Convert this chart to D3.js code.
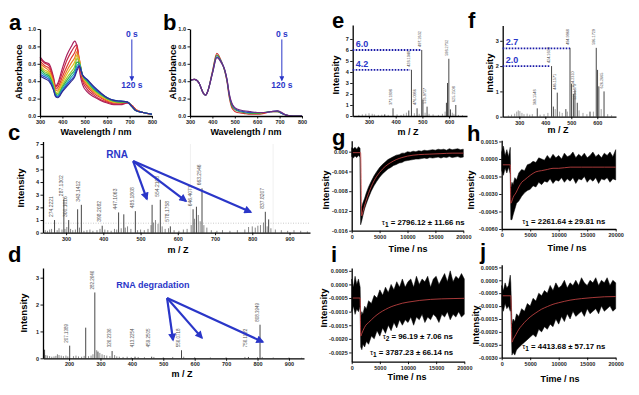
<!DOCTYPE html>
<html>
<head>
<meta charset="utf-8">
<script src="https://cdn.jsdelivr.net/npm/d3@7"></script>
<style>
body { margin: 0; background: #fff; }
svg { font-family: "Liberation Sans", Arial, sans-serif; }
.tick text { font-family: "Liberation Sans", Arial, sans-serif; font-size: 5.5px; font-weight: bold; fill: #222; }
</style>
</head>
<body>
<svg id="fig" width="639" height="395"></svg>
<script>
// ---- UV-vis spectra (panels a, b) ----
const wl = [300, 320, 340, 360, 370, 380, 400, 420, 440, 455, 465, 475, 490, 510, 540, 570, 600, 630, 660, 690, 710, 730, 760, 800];
const specA = [
    [0.68, 0.62, 0.60, 0.45, 0.34, 0.38, 0.55, 0.70, 0.80, 0.86, 0.80, 0.55, 0.36, 0.28, 0.22, 0.18, 0.15, 0.13, 0.13, 0.15, 0.12, 0.07, 0.04, 0.02],
    [0.66, 0.61, 0.58, 0.43, 0.33, 0.36, 0.50, 0.64, 0.74, 0.80, 0.82, 0.62, 0.40, 0.31, 0.24, 0.19, 0.16, 0.14, 0.14, 0.15, 0.12, 0.07, 0.04, 0.02],
    [0.63, 0.58, 0.55, 0.41, 0.31, 0.33, 0.45, 0.57, 0.67, 0.73, 0.79, 0.66, 0.43, 0.34, 0.26, 0.21, 0.17, 0.15, 0.15, 0.16, 0.12, 0.07, 0.04, 0.02],
    [0.60, 0.56, 0.52, 0.39, 0.29, 0.30, 0.41, 0.52, 0.61, 0.67, 0.74, 0.66, 0.45, 0.36, 0.28, 0.22, 0.18, 0.16, 0.15, 0.16, 0.11, 0.07, 0.04, 0.02],
    [0.58, 0.53, 0.50, 0.37, 0.27, 0.28, 0.38, 0.48, 0.56, 0.62, 0.70, 0.64, 0.46, 0.38, 0.29, 0.23, 0.19, 0.16, 0.16, 0.16, 0.11, 0.06, 0.04, 0.02],
    [0.56, 0.51, 0.48, 0.35, 0.26, 0.26, 0.35, 0.44, 0.51, 0.57, 0.66, 0.63, 0.46, 0.39, 0.30, 0.24, 0.20, 0.17, 0.16, 0.16, 0.11, 0.06, 0.04, 0.02],
    [0.54, 0.49, 0.46, 0.34, 0.25, 0.24, 0.33, 0.41, 0.48, 0.53, 0.62, 0.61, 0.47, 0.40, 0.31, 0.25, 0.20, 0.17, 0.16, 0.16, 0.11, 0.06, 0.04, 0.02],
    [0.51, 0.47, 0.44, 0.32, 0.24, 0.23, 0.31, 0.38, 0.45, 0.50, 0.58, 0.60, 0.47, 0.41, 0.32, 0.26, 0.21, 0.18, 0.17, 0.16, 0.11, 0.06, 0.04, 0.02],
    [0.48, 0.45, 0.42, 0.31, 0.23, 0.22, 0.29, 0.36, 0.42, 0.47, 0.55, 0.58, 0.47, 0.42, 0.33, 0.26, 0.21, 0.18, 0.17, 0.16, 0.11, 0.06, 0.04, 0.02],
    [0.46, 0.43, 0.40, 0.30, 0.22, 0.21, 0.28, 0.34, 0.40, 0.45, 0.52, 0.57, 0.47, 0.42, 0.34, 0.27, 0.21, 0.18, 0.17, 0.16, 0.11, 0.06, 0.04, 0.02]
];
const colorsA = ['#a8205e', '#c82848', '#e03a30', '#ec7a28', '#e0c020', '#98c830', '#30b050', '#20a8b0', '#2050d0', '#302a90'];
const specB = [
    [0.41, 0.42, 0.38, 0.26, 0.24, 0.29, 0.51, 0.72, 0.63, 0.52, 0.40, 0.22, 0.08, 0.04, 0.03, 0.02, 0.02, 0.03, 0.05, 0.05, 0.03, 0.01, 0.00, 0.00],
    [0.41, 0.42, 0.38, 0.26, 0.24, 0.29, 0.50, 0.70, 0.62, 0.52, 0.41, 0.24, 0.10, 0.06, 0.04, 0.03, 0.03, 0.04, 0.05, 0.05, 0.03, 0.01, 0.00, 0.00],
    [0.41, 0.42, 0.38, 0.26, 0.24, 0.29, 0.49, 0.68, 0.62, 0.53, 0.42, 0.25, 0.12, 0.07, 0.05, 0.04, 0.04, 0.04, 0.05, 0.06, 0.03, 0.01, 0.00, 0.00],
    [0.41, 0.42, 0.38, 0.26, 0.24, 0.29, 0.49, 0.67, 0.61, 0.53, 0.42, 0.26, 0.13, 0.08, 0.06, 0.05, 0.04, 0.04, 0.05, 0.06, 0.04, 0.01, 0.00, 0.00]
];
const colorsB = ['#d03030', '#40a040', '#2050c0', '#702a80'];
const wlTicks = [300, 400, 500, 600, 700, 800];
const absTicks = [0, 0.2, 0.4, 0.6, 0.8, 1.0];

// ---- mass spectra (panels c, d, e, f) ----
const cMz = [269, 294, 307, 331, 341, 397, 441, 455, 486, 531, 553, 580, 641, 650, 665, 835, 844];
const cInt = [1.0, 2.65, 1.0, 1.85, 2.2, 0.55, 1.6, 1.45, 1.7, 2.2, 2.6, 0.5, 1.85, 2.05, 3.5, 1.65, 1.05];
const cLab = ['274.2221', '287.1302', '300.1016', '', '343.1412', '398.2082', '447.1063', '', '485.1808', '', '554.2108', '578.1758', '646.4071', '', '663.2546', '837.8207', ''];
const cMinorMz = [244, 250, 256, 261, 276, 281, 289, 297, 302, 312, 318, 325, 336, 348, 356, 364, 372, 383, 391, 404, 412, 421, 430, 436, 448, 459, 465, 474, 492, 500, 510, 520, 528, 535, 540, 547, 558, 566, 575, 590, 603, 615, 625, 636, 645, 655, 660, 670, 678, 690, 705, 720, 740, 760, 780, 790, 800, 808, 815, 822, 830, 840, 850, 862, 878, 895, 912, 930, 948];
const cMinorInt = [0.2, 0.15, 0.25, 0.3, 0.2, 0.35, 0.25, 0.3, 0.45, 0.3, 0.2, 0.25, 0.4, 0.15, 0.2, 0.25, 0.15, 0.2, 0.3, 0.25, 0.2, 0.15, 0.3, 0.25, 0.35, 0.4, 0.5, 0.3, 0.2, 0.25, 0.2, 0.3, 0.6, 0.8, 1.0, 0.7, 0.5, 0.3, 0.35, 0.2, 0.15, 0.25, 0.3, 0.6, 1.1, 1.4, 0.9, 0.6, 0.4, 0.2, 0.15, 0.2, 0.15, 0.2, 0.25, 0.45, 0.5, 0.4, 0.55, 0.6, 0.8, 0.5, 0.35, 0.25, 0.2, 0.15, 0.2, 0.15, 0.1];
const cTicksX = [300, 400, 500, 600, 700, 800, 900];
const cTicksY = [0, 1, 2, 3, 4, 5, 6, 7];

const dMz = [122, 202, 253, 282, 292, 337, 410, 463, 558, 771, 808];
const dInt = [0.32, 0.47, 1.14, 2.45, 0.25, 0.27, 0.06, 0.06, 0.3, 0.05, 1.25];
const dLab = ['', '207.1389', '', '282.2646', '', '326.2336', '413.2254', '459.2505', '556.0718', '756.1122', '808.3949'];
const dMinorMz = [120, 126, 131, 138, 145, 152, 158, 163, 168, 175, 182, 190, 196, 214, 222, 230, 240, 248, 262, 270, 276, 288, 298, 305, 312, 320, 330, 345, 352, 360, 372, 385, 398, 420, 440, 470, 500, 530, 565, 600, 650, 700, 760, 800, 815, 850, 900, 940];
const dMinorInt = [0.2, 0.12, 0.1, 0.08, 0.06, 0.07, 0.09, 0.15, 0.12, 0.1, 0.08, 0.1, 0.07, 0.08, 0.1, 0.07, 0.06, 0.09, 0.08, 0.1, 0.15, 0.3, 0.2, 0.15, 0.12, 0.1, 0.08, 0.12, 0.07, 0.06, 0.05, 0.06, 0.04, 0.05, 0.04, 0.05, 0.04, 0.05, 0.06, 0.04, 0.03, 0.04, 0.05, 0.04, 0.05, 0.03, 0.03, 0.02];
const dTicksX = [200, 300, 400, 500, 600, 700, 800, 900];
const dTicksY = [0, 1, 2, 3];

const eMz = [359, 390, 449, 459, 480, 497.5, 502, 517.5, 590, 594, 599, 605, 625];
const eInt = [0.15, 0.7, 0.5, 4.2, 0.7, 6.0, 1.5, 0.85, 1.2, 3.0, 5.2, 0.6, 1.0];
const eLab = ['', '373.1898', '', '428.1048', '476.0986', '497.2632', '', '516.9727', '', '', '598.2732', '', '625.2508'];
const eMinorMz = [262, 275, 288, 300, 312, 320, 335, 348, 372, 405, 420, 430, 440, 470, 488, 510, 525, 540, 560, 575, 585, 612, 618, 635, 650];
const eMinorInt = [0.1, 0.15, 0.2, 0.25, 0.2, 0.15, 0.1, 0.12, 0.1, 0.15, 0.1, 0.2, 0.3, 0.25, 0.2, 0.3, 0.2, 0.15, 0.1, 0.2, 0.4, 0.3, 0.2, 0.1, 0.08];
const eMarks = [6.0, 4.2];
const eMarkMz = [497.5, 454];

const fMz = [369, 424, 431, 446, 479, 495, 501, 508, 514, 523, 572, 596, 601, 606, 626];
const fInt = [0.33, 2.0, 0.4, 0.95, 0.3, 2.72, 1.3, 0.9, 1.05, 0.55, 0.2, 2.72, 1.85, 1.2, 1.0];
const fLab = ['369.1548', '424.1690', '', '446.1571', '', '494.9968', '', '', '514.2310', '523.1870', '', '596.1729', '', '', '626.2665'];
const fMinorMz = [258, 270, 282, 290, 296, 302, 310, 318, 330, 340, 350, 380, 395, 410, 438, 455, 465, 485, 530, 545, 560, 585, 615, 640, 655];
const fMinorInt = [0.05, 0.08, 0.12, 0.2, 0.25, 0.22, 0.15, 0.1, 0.12, 0.08, 0.1, 0.08, 0.1, 0.15, 0.3, 0.2, 0.15, 0.2, 0.25, 0.15, 0.1, 0.2, 0.3, 0.1, 0.06];
const fMarks = [2.7, 2.0];
const fMarkMz = [495, 418];
const efTicksX = [300, 400, 500, 600];

// ---- transient traces (panels g, h, i, j): noise band (lo/hi) + red fit ----
const tt = [0, 300, 600, 900, 1200, 1500, 1600, 1800, 2000, 2300, 2600, 3000, 3500, 4000, 4500, 5000, 5500, 6000, 6500, 7000, 7500, 8000, 8500, 9000, 9500, 10000, 10500, 11000, 11500, 12000, 12500, 13000, 13500, 14000, 14500, 15000, 15500, 16000, 16500, 17000, 17500, 18000, 18500, 19000, 19500, 20000];
const gHi = [0.0008, 0.0006, 0.0009, 0.0005, 0.0010, 0.0007, -0.0110, -0.0112, -0.0104, -0.0095, -0.0084, -0.0072, -0.0060, -0.0049, -0.0040, -0.0032, -0.0026, -0.0021, -0.0016, -0.0013, -0.0010, -0.0007, -0.0006, -0.0003, -0.0003, 0.0000, -0.0001, 0.0001, 0.0000, 0.0002, 0.0001, 0.0003, 0.0002, 0.0003, 0.0004, 0.0003, 0.0005, 0.0004, 0.0005, 0.0003, 0.0006, 0.0004, 0.0005, 0.0006, 0.0004, 0.0005];
const gLo = [-0.0010, -0.0013, -0.0009, -0.0012, -0.0008, -0.0011, -0.0148, -0.0140, -0.0130, -0.0116, -0.0106, -0.0094, -0.0080, -0.0069, -0.0060, -0.0052, -0.0045, -0.0040, -0.0035, -0.0032, -0.0028, -0.0026, -0.0023, -0.0022, -0.0019, -0.0018, -0.0017, -0.0016, -0.0015, -0.0015, -0.0014, -0.0013, -0.0014, -0.0012, -0.0013, -0.0012, -0.0011, -0.0013, -0.0011, -0.0012, -0.0010, -0.0012, -0.0011, -0.0010, -0.0012, -0.0011];
const hHi = [0.0006, 0.0011, 0.0003, 0.0008, 0.0002, 0.0010, -0.0025, -0.0020, -0.0022, -0.0016, -0.0018, -0.0012, -0.0009, -0.0010, -0.0005, -0.0004, -0.0002, -0.0003, 0.0001, 0.0000, -0.0001, 0.0003, 0.0000, 0.0004, 0.0001, 0.0003, 0.0000, 0.0005, 0.0002, 0.0003, 0.0006, 0.0001, 0.0004, 0.0002, 0.0005, 0.0001, 0.0003, 0.0006, 0.0002, 0.0004, 0.0001, 0.0005, 0.0003, 0.0006, 0.0002, 0.0008];
const hLo = [-0.0010, -0.0014, -0.0008, -0.0012, -0.0007, -0.0013, -0.0052, -0.0052, -0.0048, -0.0043, -0.0038, -0.0036, -0.0032, -0.0029, -0.0027, -0.0026, -0.0023, -0.0024, -0.0020, -0.0022, -0.0019, -0.0020, -0.0017, -0.0021, -0.0018, -0.0019, -0.0016, -0.0020, -0.0017, -0.0019, -0.0016, -0.0021, -0.0017, -0.0018, -0.0015, -0.0020, -0.0017, -0.0019, -0.0016, -0.0021, -0.0017, -0.0018, -0.0016, -0.0020, -0.0017, -0.0018];
const iHi = [0.0002, -0.0001, 0.0003, 0.0000, 0.0002, -0.0001, -0.0012, -0.0010, -0.0011, -0.0008, -0.0009, -0.0006, -0.0007, -0.0004, -0.0005, -0.0002, -0.0004, -0.0001, -0.0003, 0.0000, -0.0002, 0.0001, -0.0001, 0.0002, -0.0001, 0.0001, 0.0002, -0.0001, 0.0003, 0.0000, 0.0002, 0.0001, 0.0003, -0.0001, 0.0002, 0.0003, 0.0000, 0.0002, 0.0004, 0.0001, 0.0005, 0.0001, 0.0003, 0.0002, 0.0004, 0.0002];
const iLo = [-0.0010, -0.0008, -0.0011, -0.0009, -0.0010, -0.0008, -0.0023, -0.0024, -0.0022, -0.0023, -0.0021, -0.0022, -0.0019, -0.0020, -0.0017, -0.0019, -0.0016, -0.0018, -0.0015, -0.0017, -0.0014, -0.0016, -0.0013, -0.0015, -0.0013, -0.0014, -0.0012, -0.0015, -0.0012, -0.0013, -0.0011, -0.0014, -0.0012, -0.0013, -0.0011, -0.0012, -0.0014, -0.0011, -0.0012, -0.0010, -0.0013, -0.0011, -0.0012, -0.0010, -0.0012, -0.0011];
const jHi = [-0.0002, -0.0004, -0.0001, -0.0003, -0.0002, 0.0002, -0.0001, -0.0017, -0.0015, -0.0016, -0.0013, -0.0014, -0.0011, -0.0012, -0.0009, -0.0010, -0.0007, -0.0008, -0.0005, -0.0006, -0.0004, -0.0005, -0.0002, -0.0004, -0.0001, -0.0003, -0.0002, 0.0000, -0.0003, -0.0001, -0.0002, 0.0000, -0.0002, 0.0001, -0.0001, -0.0002, 0.0000, -0.0001, 0.0001, -0.0002, 0.0000, -0.0001, 0.0001, -0.0002, 0.0000, -0.0001];
const jLo = [-0.0010, -0.0012, -0.0009, -0.0011, -0.0010, -0.0012, -0.0011, -0.0029, -0.0028, -0.0029, -0.0027, -0.0026, -0.0025, -0.0024, -0.0023, -0.0022, -0.0021, -0.0022, -0.0019, -0.0020, -0.0018, -0.0019, -0.0017, -0.0018, -0.0015, -0.0017, -0.0014, -0.0016, -0.0013, -0.0015, -0.0012, -0.0014, -0.0013, -0.0012, -0.0014, -0.0011, -0.0013, -0.0012, -0.0011, -0.0013, -0.0010, -0.0012, -0.0011, -0.0010, -0.0012, -0.0011];
const ft = [0, 1500, 1600, 1800, 2000, 2500, 3000, 3500, 4000, 5000, 6000, 7000, 8000, 9000, 10000, 12000, 14000, 16000, 18000, 20000];
const gFit = [-0.0002, -0.0002, -0.0002, -0.0130, -0.0122, -0.0102, -0.0085, -0.0071, -0.0059, -0.0042, -0.0030, -0.0022, -0.0016, -0.0012, -0.0009, -0.0006, -0.0005, -0.0004, -0.0003, -0.0003];
const hFit = [-0.0005, -0.0005, -0.0038, -0.0036, -0.0033, -0.0029, -0.0024, -0.0020, -0.0018, -0.0014, -0.0011, -0.0010, -0.0009, -0.0008, -0.0008, -0.0007, -0.0007, -0.0007, -0.0007, -0.0007];
const iFit = [-0.0005, -0.0005, -0.0019, -0.0018, -0.0017, -0.0015, -0.0014, -0.0013, -0.0012, -0.00104, -0.00092, -0.00082, -0.00075, -0.00069, -0.00065, -0.00059, -0.00055, -0.00053, -0.00052, -0.00051];
const jFit = [-0.0006, -0.0006, -0.0006, -0.0024, -0.0023, -0.0021, -0.0019, -0.00176, -0.00163, -0.00142, -0.00126, -0.00112, -0.00102, -0.00093, -0.00087, -0.00077, -0.00071, -0.00067, -0.00064, -0.00063];
const timeTicks = [0, 5000, 10000, 15000, 20000];
const gTicksY = [0, -0.004, -0.008, -0.012, -0.016];
const hTicksY = [0.0015, 0, -0.0015, -0.003, -0.0045, -0.006];
const iTicksY = [0.0005, 0, -0.0005, -0.001, -0.0015, -0.002, -0.0025];
const jTicksY = [0.0005, 0, -0.0005, -0.001, -0.0015, -0.002, -0.0025, -0.003];

const BLUE = '#2a36c8';
const svg = d3.select('#fig');
const loc = d3.formatLocale({ decimal: '.', thousands: ',', grouping: [3], currency: ['', ''], minus: '-' });

// arrow heads
const defs = svg.append('defs');
defs.append('marker').attr('id', 'bigArrow')
    .attr('viewBox', '0 0 10 10').attr('refX', 8).attr('refY', 5)
    .attr('markerUnits', 'userSpaceOnUse').attr('markerWidth', 9).attr('markerHeight', 8)
    .attr('orient', 'auto')
    .append('path').attr('d', 'M0,0 L10,5 L0,10 z').attr('fill', BLUE);
defs.append('marker').attr('id', 'smallArrow')
    .attr('viewBox', '0 0 10 10').attr('refX', 8).attr('refY', 5)
    .attr('markerUnits', 'userSpaceOnUse').attr('markerWidth', 5).attr('markerHeight', 5)
    .attr('orient', 'auto')
    .append('path').attr('d', 'M0,0 L10,5 L0,10 z').attr('fill', BLUE);

function axes(x, y, xt, yt, xf, yf) {
    const gx = svg.append('g')
        .attr('transform', `translate(0,${y.range()[0]})`)
        .call(d3.axisBottom(x).tickValues(xt).tickFormat(xf).tickSize(2.5).tickSizeOuter(0).tickPadding(1.5));
    const gy = svg.append('g')
        .attr('transform', `translate(${x.range()[0]},0)`)
        .call(d3.axisLeft(y).tickValues(yt).tickFormat(yf).tickSize(2.5).tickSizeOuter(0).tickPadding(1.5));
    [gx, gy].forEach(g => {
        g.select('.domain').attr('stroke-width', 1.3);
        g.selectAll('.tick line').attr('stroke-width', 0.9);
    });
}

function label(txt, x, y, size, opts = {}) {
    const t = svg.append('text')
        .attr('x', x).attr('y', y)
        .attr('font-size', size)
        .attr('font-weight', opts.weight || 'bold')
        .attr('fill', opts.fill || '#000')
        .attr('text-anchor', opts.anchor || 'start')
        .text(txt);
    if (opts.rotate) t.attr('transform', `rotate(-90,${x},${y})`);
    return t;
}

function spectra(x, y, series, colors) {
    const line = d3.line().x((d, i) => x(wl[i])).y(d => y(d)).curve(d3.curveMonotoneX);
    svg.append('g').selectAll('path').data(series).join('path')
        .attr('d', line)
        .attr('fill', 'none')
        .attr('stroke', (d, i) => colors[i])
        .attr('stroke-width', 1.2);
}

function sticks(x, y, mz, inten, color, width) {
    svg.append('g').selectAll('line').data(d3.zip(mz, inten)).join('line')
        .attr('x1', d => x(d[0])).attr('x2', d => x(d[0]))
        .attr('y1', y(0)).attr('y2', d => y(d[1]))
        .attr('stroke', color).attr('stroke-width', width);
}

function peakLabels(x, y, mz, inten, labs, size) {
    svg.append('g').selectAll('text').data(d3.zip(mz, inten, labs).filter(d => d[2])).join('text')
        .attr('transform', d => `translate(${x(d[0]) - 1.2},${Math.min(y(d[1]), y(0) - 8) - 3}) rotate(-90)`)
        .attr('font-size', size)
        .attr('fill', '#555')
        .text(d => d[2]);
}

function blueArrows(x, y, from, tos) {
    tos.forEach(p => {
        svg.append('line')
            .attr('x1', x(from[0])).attr('y1', y(from[1]))
            .attr('x2', x(p[0])).attr('y2', y(p[1]))
            .attr('stroke', BLUE).attr('stroke-width', 2.2)
            .attr('marker-end', 'url(#bigArrow)');
    });
}

function dotted(x, y, levels, ends) {
    levels.forEach((v, i) => {
        svg.append('line')
            .attr('x1', x.range()[0]).attr('x2', x(ends[i]))
            .attr('y1', y(v)).attr('y2', y(v))
            .attr('stroke', '#1a1aa8').attr('stroke-width', 1.8)
            .attr('stroke-dasharray', '1.6,1.4');
        label(v.toFixed(1), x.range()[0] + 3, y(v) - 3, 9, { fill: BLUE });
    });
}

function trace(x, y, hi, lo, fit) {
    const band = d3.area()
        .x((d, i) => x(tt[i]))
        .y0((d, i) => y(lo[i]))
        .y1(d => y(d));
    svg.append('path').datum(hi)
        .attr('d', band)
        .attr('fill', '#000').attr('stroke', '#000').attr('stroke-width', 0.5);
    const fl = d3.line().x((d, i) => x(ft[i])).y(d => y(d)).curve(d3.curveMonotoneX);
    svg.append('path').datum(fit)
        .attr('d', fl)
        .attr('fill', 'none').attr('stroke', '#d04848').attr('stroke-width', 0.8);
}

function tau(x, y, sub, rest) {
    const t = svg.append('text').attr('x', x).attr('y', y)
        .attr('font-size', 7.8).attr('font-weight', 'bold').attr('fill', '#000');
    t.append('tspan').attr('font-weight', 'normal').text('τ');
    t.append('tspan').attr('dy', 2).attr('font-size', 6.5).text(sub);
    t.append('tspan').attr('dy', -2).text(' = ' + rest);
}

// ---- panel a ----
const xA = d3.scaleLinear().domain([300, 800]).range([40, 152]);
const yA = d3.scaleLinear().domain([0, 1]).range([116, 29]);
spectra(xA, yA, specA, colorsA);
axes(xA, yA, wlTicks, absTicks, d3.format('d'), d3.format('.1f'));

// ---- panel b ----
const xB = d3.scaleLinear().domain([300, 800]).range([190, 302]);
const yB = d3.scaleLinear().domain([0, 1]).range([116, 29]);
spectra(xB, yB, specB, colorsB);
axes(xB, yB, wlTicks, absTicks, d3.format('d'), d3.format('.1f'));

[[xA, yA], [xB, yB]].forEach(([x, y]) => {
    label('0 s', x(710), y(0.91), 8.5, { fill: BLUE, anchor: 'middle' });
    svg.append('line')
        .attr('x1', x(710)).attr('x2', x(710))
        .attr('y1', y(0.88)).attr('y2', y(0.41))
        .attr('stroke', BLUE).attr('stroke-width', 1)
        .attr('marker-end', 'url(#smallArrow)');
    label('120 s', x(710), y(0.32), 8.5, { fill: BLUE, anchor: 'middle' });
    label('Wavelength / nm', (x.range()[0] + x.range()[1]) / 2, 135, 9, { anchor: 'middle' });
});
label('Absorbance', 22, 72, 9.5, { anchor: 'middle', rotate: true });
label('Absorbance', 175.5, 72, 9.5, { anchor: 'middle', rotate: true });

// ---- panel c ----
const xC = d3.scaleLinear().domain([238, 955]).range([43, 310]);
const yC = d3.scaleLinear().domain([0, 7.2]).range([232.7, 141.5]);
[634, 856].forEach(v => svg.append('line')
    .attr('x1', xC(v)).attr('x2', xC(v)).attr('y1', yC(0)).attr('y2', yC(7))
    .attr('stroke', '#e6e6e6').attr('stroke-width', 0.6));
svg.append('line')
    .attr('x1', xC(238)).attr('x2', xC(955)).attr('y1', yC(0.75)).attr('y2', yC(0.75))
    .attr('stroke', '#aaa').attr('stroke-width', 0.6).attr('stroke-dasharray', '1,1.5');
sticks(xC, yC, cMinorMz, cMinorInt, '#555', 0.7);
sticks(xC, yC, cMz, cInt, '#333', 0.9);
peakLabels(xC, yC, cMz, cInt, cLab, 5);
axes(xC, yC, cTicksX, cTicksY, d3.format('d'), d3.format('d'));
label('RNA', xC(437), yC(5.9), 10, { fill: BLUE, anchor: 'middle' });
blueArrows(xC, yC, [480, 5.66], [[517, 2.66], [622, 2.5], [796, 1.63]]);
label('Intensity', 23.5, 188, 9.5, { anchor: 'middle', rotate: true });
label('m / Z', 178, 253, 9, { anchor: 'middle' });

// ---- panel d ----
const xD = d3.scaleLinear().domain([117, 948]).range([43, 304]);
const yD = d3.scaleLinear().domain([0, 3.36]).range([358.3, 268]);
sticks(xD, yD, dMinorMz, dMinorInt, '#555', 0.7);
sticks(xD, yD, dMz, dInt, '#333', 0.9);
peakLabels(xD, yD, dMz, dInt, dLab, 4.5);
axes(xD, yD, dTicksX, dTicksY, d3.format('d'), d3.format('d'));
label('RNA degradation', xD(467), yD(2.62), 9, { fill: BLUE, anchor: 'middle' });
blueArrows(xD, yD, [512, 2.24], [[531, 0.68], [623, 0.76], [817, 0.61]]);
label('Intensity', 26.5, 313, 9.5, { anchor: 'middle', rotate: true });
label('m / Z', 182, 377, 9, { anchor: 'middle' });

// ---- panel e ----
const xE = d3.scaleLinear().domain([239, 667]).range([352.7, 467]);
const yE = d3.scaleLinear().domain([0, 8.27]).range([116, 25]);
sticks(xE, yE, eMinorMz, eMinorInt, '#666', 0.6);
sticks(xE, yE, eMz, eInt, '#333', 0.9);
peakLabels(xE, yE, eMz, eInt, eLab, 3.8);
axes(xE, yE, efTicksX, [0, 1, 2, 3, 4, 5, 6, 7], d3.format('d'), d3.format('d'));
dotted(xE, yE, eMarks, eMarkMz);
label('Intensity', 338.5, 75, 9.5, { anchor: 'middle', rotate: true });
label('m / Z', 408, 135, 9, { anchor: 'middle' });

// ---- panel f ----
const xF = d3.scaleLinear().domain([236, 672]).range([502.7, 616]);
const yF = d3.scaleLinear().domain([0, 3.6]).range([116.7, 25.6]);
sticks(xF, yF, fMinorMz, fMinorInt, '#666', 0.6);
sticks(xF, yF, fMz, fInt, '#333', 0.9);
peakLabels(xF, yF, fMz, fInt, fLab, 3.8);
axes(xF, yF, efTicksX, [0, 1, 2, 3], d3.format('d'), d3.format('d'));
dotted(xF, yF, fMarks, fMarkMz);
label('Intensity', 492.5, 73, 9.5, { anchor: 'middle', rotate: true });
label('m / Z', 558, 133, 9, { anchor: 'middle' });

// ---- panels g-j ----
const xG = d3.scaleLinear().domain([0, 20000]).range([351.7, 463.3]);
const yG = d3.scaleLinear().domain([-0.016, 0.0022]).range([230.7, 140.8]);
trace(xG, yG, gHi, gLo, gFit);
axes(xG, yG, timeTicks, gTicksY, d3.format('d'), loc.format('.3f'));
tau(xG(5400), yG(-0.0148), '1', '2796.12 ± 11.66 ns');
label('Intensity', 328.5, 190, 9.5, { anchor: 'middle', rotate: true });
label('Time / ns', 408, 252, 9, { anchor: 'middle' });

const xH = d3.scaleLinear().domain([0, 20000]).range([501.7, 615.7]);
const yH = d3.scaleLinear().domain([-0.006, 0.0016]).range([229, 140.3]);
trace(xH, yH, hHi, hLo, hFit);
axes(xH, yH, timeTicks, hTicksY, d3.format('d'), loc.format('.4f'));
tau(xH(3600), yH(-0.0056), '1', '2261.64 ± 29.81 ns');
label('Intensity', 473.5, 190, 9.5, { anchor: 'middle', rotate: true });
label('Time / ns', 567, 251, 9, { anchor: 'middle' });

const xI = d3.scaleLinear().domain([0, 20000]).range([351.7, 464.3]);
const yI = d3.scaleLinear().domain([-0.00284, 0.0006]).range([361.7, 268.1]);
trace(xI, yI, iHi, iLo, iFit);
axes(xI, yI, timeTicks, iTicksY, d3.format('d'), loc.format('.4f'));
tau(xI(5500), yI(-0.00199), '2', '96.19 ± 7.06 ns');
tau(xI(3250), yI(-0.00258), '1', '3787.23 ± 66.14 ns');
label('Intensity', 326.5, 308, 9.5, { anchor: 'middle', rotate: true });
label('Time / ns', 407, 380, 9, { anchor: 'middle' });

const xJ = d3.scaleLinear().domain([0, 20000]).range([501.7, 615.7]);
const yJ = d3.scaleLinear().domain([-0.003, 0.0006]).range([357.7, 264.8]);
trace(xJ, yJ, jHi, jLo, jFit);
axes(xJ, yJ, timeTicks, jTicksY, d3.format('d'), loc.format('.4f'));
tau(xJ(3600), yJ(-0.00268), '1', '4413.68 ± 57.17 ns');
label('Intensity', 478.5, 325, 9.5, { anchor: 'middle', rotate: true });
label('Time / ns', 560, 382, 9, { anchor: 'middle' });

// ---- panel letters ----
const letters = ['a', 'b', 'c', 'd', 'e', 'f', 'g', 'h', 'i', 'j'];
const letterX = [9, 163, 8, 8, 332, 468, 332, 467, 331, 480];
const letterY = [30, 30, 140, 262, 28, 28, 145, 141, 262, 259];
letters.forEach((l, i) => label(l, letterX[i], letterY[i], 22));
</script>
</body>
</html>
